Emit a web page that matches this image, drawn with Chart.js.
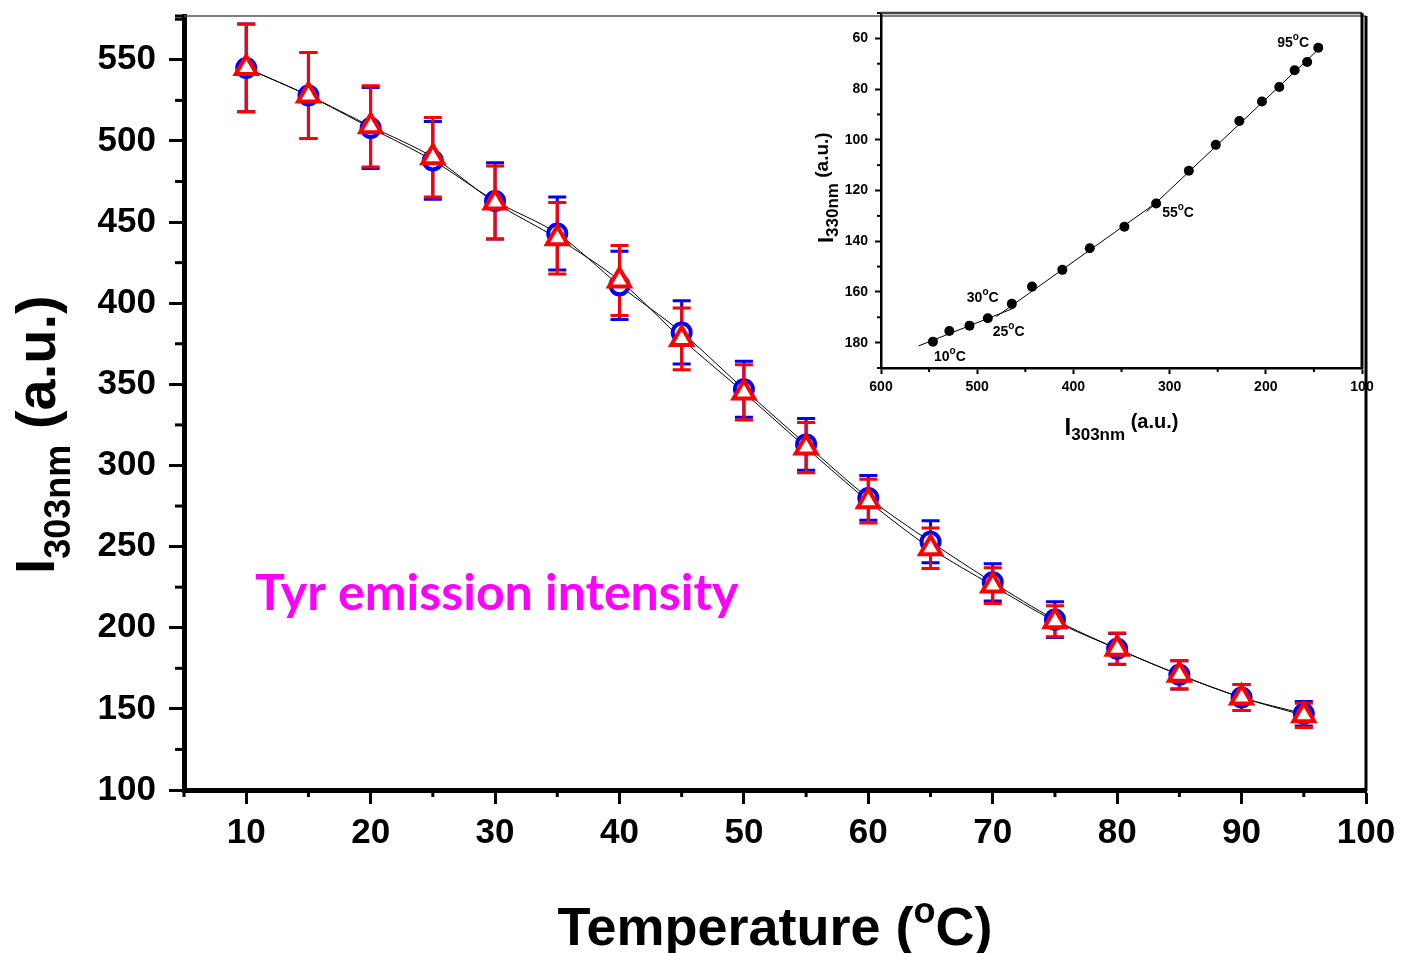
<!DOCTYPE html>
<html>
<head>
<meta charset="utf-8">
<script src="https://cdn.jsdelivr.net/npm/chart.js@4.4.1/dist/chart.umd.min.js"></script>
<style>
  html, body { margin: 0; padding: 0; background: #fff; }
  #wrap { position: relative; width: 1403px; height: 953px; }
  #main { position: absolute; left: 0; top: 0; }
  #inset { position: absolute; left: 790px; top: 0; }
</style>
</head>
<body>
<div id="wrap">
  <canvas id="main" width="1403" height="953"></canvas>
  <canvas id="inset" width="613" height="450"></canvas>
</div>
<script>
// temperature (°C)
var temperature = [10, 15, 20, 25, 30, 35, 40, 45, 50, 55, 60, 65, 70, 75, 80, 85, 90, 95];
// I303nm - blue circles
var blueIntensity = [545, 528, 508, 488, 463, 443, 411, 382, 347, 313, 280, 253, 228, 205, 187, 171, 157, 147];
var blueError = [27, 26.5, 25, 24, 23.5, 22.5, 21, 19.5, 17.3, 16, 13.8, 13, 11.5, 11, 9.5, 8.7, 8, 7.5];
// I303nm - red triangles
var redIntensity = [545, 528, 509, 490, 462, 440, 414, 378, 345, 311, 278, 249, 226, 204, 187, 171, 157, 146];
var redError = [27, 26.5, 25, 24.5, 22.5, 22, 21.5, 19, 17, 15.5, 13.5, 12.5, 11, 9.5, 9.7, 8.7, 8, 7.5];

// inset: I330nm vs I303nm
var insetI303 = [546, 529, 508, 489, 464, 443, 411.5, 383, 347, 314, 280, 252, 227.5, 204, 186, 170, 157, 145.5];
var insetI330 = [179.6, 175.4, 173.3, 170.4, 164.7, 157.9, 151.3, 142.8, 134.3, 125.1, 112.2, 102, 92.6, 84.9, 79.2, 72.6, 69.3, 63.7];
// linear fits (endpoints)
var fitLowX = [561, 462];
var fitLowY = [181.3, 166.4];
var fitMidX = [480, 310];
var fitMidY = [169.7, 123.8];
var fitHighX = [324, 141];
var fitHighY = [128.4, 62.8];
// temperature labels in the inset
var insetLabels = ["10", "25", "30", "55", "95"];
var insetLabelPoint = [0, 3, 4, 9, 17];
var insetLabelOffset = [[1, 19], [5, 18], [-45, -2], [6, 14], [-41, -1]];

var FONT = "'Liberation Sans', Arial, sans-serif";

function toPoints(xs, ys) {
  var out = [];
  for (var i = 0; i < xs.length; i++) out.push({ x: xs[i], y: ys[i] });
  return out;
}

// text with sub/superscripts
function drawRich(ctx, parts, x, y, angle, align) {
  ctx.save();
  ctx.translate(x, y);
  ctx.rotate(angle);
  var total = 0;
  parts.forEach(function(p) { ctx.font = p.font; total += ctx.measureText(p.text).width; });
  var cx = align === "center" ? -total / 2 : 0;
  ctx.textAlign = "left";
  ctx.textBaseline = "alphabetic";
  parts.forEach(function(p) {
    ctx.font = p.font;
    ctx.fillStyle = p.color || "#000";
    ctx.fillText(p.text, cx, p.dy || 0);
    cx += ctx.measureText(p.text).width;
  });
  ctx.restore();
}

// error bars under the markers
var errorBars = {
  id: "errorBars",
  beforeDatasetsDraw: function(chart) {
    var ctx = chart.ctx;
    var xs = chart.scales.x, ys = chart.scales.y;
    chart.data.datasets.forEach(function(ds) {
      if (!ds.errors) return;
      ctx.save();
      ctx.strokeStyle = ds.pointBorderColor;
      ctx.lineWidth = 3;
      ds.data.forEach(function(p, i) {
        var px = xs.getPixelForValue(p.x);
        var top = ys.getPixelForValue(p.y + ds.errors[i]);
        var bot = ys.getPixelForValue(p.y - ds.errors[i]);
        ctx.beginPath();
        ctx.moveTo(px, top); ctx.lineTo(px, bot);
        ctx.moveTo(px - 9, top); ctx.lineTo(px + 9, top);
        ctx.moveTo(px - 9, bot); ctx.lineTo(px + 9, bot);
        ctx.stroke();
      });
      ctx.restore();
    });
  }
};

// short minor ticks + frame
var minorTicks = {
  id: "minorTicks",
  afterDraw: function(chart, args, opts) {
    var ctx = chart.ctx, area = chart.chartArea;
    ctx.save();
    ctx.strokeStyle = "#000";
    ["x", "y"].forEach(function(id) {
      var o = opts[id];
      if (!o) return;
      var scale = chart.scales[id];
      ctx.lineWidth = o.width;
      scale.ticks.forEach(function(t) {
        if (t.value % o.every === 0) return;
        var p = scale.getPixelForValue(t.value);
        ctx.beginPath();
        if (id === "x") { ctx.moveTo(p, area.bottom); ctx.lineTo(p, area.bottom + o.length); }
        else { ctx.moveTo(area.left, p); ctx.lineTo(area.left - o.length, p); }
        ctx.stroke();
      });
    });
    // top and right frame
    ctx.strokeStyle = opts.topColor;
    ctx.lineWidth = opts.topWidth;
    ctx.beginPath();
    ctx.moveTo(area.left, area.top); ctx.lineTo(area.right, area.top);
    ctx.stroke();
    ctx.strokeStyle = "#000";
    ctx.lineWidth = opts.rightWidth;
    ctx.beginPath();
    ctx.moveTo(area.right, area.top); ctx.lineTo(area.right, area.bottom + 1);
    ctx.stroke();
    ctx.restore();
  }
};

var mainTexts = {
  id: "mainTexts",
  afterDraw: function(chart) {
    var ctx = chart.ctx;
    drawRich(ctx, [
      { text: "I", font: "bold 55px " + FONT },
      { text: "303nm", font: "bold 36px " + FONT, dy: 16 },
      { text: " (a.u.)", font: "bold 56px " + FONT, dy: 1 }
    ], 54, 574, -Math.PI / 2, "left");
    drawRich(ctx, [
      { text: "Temperature (", font: "bold 54px " + FONT },
      { text: "o", font: "bold 36px " + FONT, dy: -22 },
      { text: "C)", font: "bold 54px " + FONT }
    ], 775, 945, 0, "center");
    // scale the label font so it spans the same width as the original
    var label = "Tyr emission intensity";
    ctx.font = "bold 46px Lato, " + FONT;
    var size = Math.round(46 * 482 / ctx.measureText(label).width);
    drawRich(ctx, [
      { text: label, font: "bold " + size + "px Lato, " + FONT, color: "#ff00ff" }
    ], 255, 610, 0, "left");
  }
};

var insetTexts = {
  id: "insetTexts",
  afterDraw: function(chart) {
    var ctx = chart.ctx;
    var xs = chart.scales.x, ys = chart.scales.y;
    for (var i = 0; i < insetLabels.length; i++) {
      var k = insetLabelPoint[i];
      var px = xs.getPixelForValue(insetI303[k]) + insetLabelOffset[i][0];
      var py = ys.getPixelForValue(insetI330[k]) + insetLabelOffset[i][1];
      drawRich(ctx, [
        { text: insetLabels[i], font: "bold 14px " + FONT },
        { text: "o", font: "bold 10px " + FONT, dy: -7 },
        { text: "C", font: "bold 14px " + FONT }
      ], px, py, 0, "left");
    }
    drawRich(ctx, [
      { text: "I", font: "bold 22px " + FONT, dy: 5 },
      { text: "330nm", font: "bold 17px " + FONT, dy: 10 },
      { text: " (a.u.)", font: "bold 19px " + FONT }
    ], 828 - 790, 243, -Math.PI / 2, "left");
    drawRich(ctx, [
      { text: "I", font: "bold 24px " + FONT, dy: 7 },
      { text: "303nm", font: "bold 17px " + FONT, dy: 12 },
      { text: " (a.u.)", font: "bold 20px " + FONT }
    ], 1121.5 - 790, 428, 0, "center");
  }
};

function majorTickColor(every) {
  return function(c) { return (c.tick && c.tick.value % every === 0) ? "#000" : "rgba(0,0,0,0)"; };
}

// fixed axis sizes, no extra label padding
function fixHeight(h) {
  return function(s) { s.height = h; s.paddingLeft = 0; s.paddingRight = 0; };
}
function fixWidth(w) {
  return function(s) { s.width = w; s.paddingTop = 0; s.paddingBottom = 0; };
}

new Chart(document.getElementById("main"), {
  type: "scatter",
  data: {
    datasets: [
      { label: "blue line", data: toPoints(temperature, blueIntensity), showLine: true, borderColor: "#000",
        borderWidth: 1, pointRadius: 0, tension: 0.3, order: 3 },
      { label: "red line", data: toPoints(temperature, redIntensity), showLine: true, borderColor: "#000",
        borderWidth: 1, pointRadius: 0, tension: 0.3, order: 2 },
      { label: "blue", data: toPoints(temperature, blueIntensity), errors: blueError, showLine: false,
        pointStyle: "circle", pointRadius: 9, pointBorderWidth: 4, pointBorderColor: "#0000ff",
        pointBackgroundColor: "#ffffff", order: 1 },
      { label: "red", data: toPoints(temperature, redIntensity), errors: redError, showLine: false,
        pointStyle: "triangle", pointRadius: 12, pointBorderWidth: 4, pointBorderColor: "#ff0000",
        pointBackgroundColor: "#ffffff", order: 0 }
    ]
  },
  options: {
    responsive: false,
    animation: false,
    devicePixelRatio: 1,
    events: [],
    layout: { padding: { left: 0, right: 37, top: 12, bottom: 0 } },
    plugins: {
      legend: { display: false },
      tooltip: { enabled: false },
      minorTicks: {
        x: { every: 10, length: 7, width: 3 },
        y: { every: 50, length: 9, width: 3 },
        topColor: "#555", topWidth: 1.5, rightWidth: 3
      }
    },
    scales: {
      x: {
        type: "linear", min: 5, max: 100, bounds: "data",
        ticks: { stepSize: 5, autoSkip: false, includeBounds: false, maxRotation: 0, padding: 8, color: "#000",
          font: { family: FONT, size: 35, weight: "bold" },
          callback: function(v) { return v % 10 === 0 ? v : ""; } },
        grid: { drawOnChartArea: false, tickLength: 14, tickWidth: 3, tickColor: majorTickColor(10) },
        border: { color: "#000", width: 5 },
        afterFit: fixHeight(163)
      },
      y: {
        type: "linear", min: 100, max: 577, bounds: "data",
        ticks: { stepSize: 25, autoSkip: false, includeBounds: false, padding: 13, color: "#000",
          font: { family: FONT, size: 35, weight: "bold" },
          callback: function(v) { return v % 50 === 0 ? v : ""; } },
        grid: { drawOnChartArea: false, tickLength: 15, tickWidth: 3, tickColor: majorTickColor(50) },
        border: { color: "#000", width: 5 },
        afterFit: fixWidth(184)
      }
    }
  },
  plugins: [errorBars, minorTicks, mainTexts]
});

new Chart(document.getElementById("inset"), {
  type: "scatter",
  data: {
    datasets: [
      { label: "I330 vs I303", data: toPoints(insetI303, insetI330), showLine: false, pointRadius: 5,
        pointBackgroundColor: "#000", pointBorderColor: "#000", pointBorderWidth: 0 },
      { label: "fit 1", data: toPoints(fitLowX, fitLowY), showLine: true, borderColor: "#000", borderWidth: 1, pointRadius: 0 },
      { label: "fit 2", data: toPoints(fitMidX, fitMidY), showLine: true, borderColor: "#000", borderWidth: 1, pointRadius: 0 },
      { label: "fit 3", data: toPoints(fitHighX, fitHighY), showLine: true, borderColor: "#000", borderWidth: 1, pointRadius: 0 }
    ]
  },
  options: {
    responsive: false,
    animation: false,
    devicePixelRatio: 1,
    events: [],
    layout: { padding: { left: 0, right: 41, top: 13, bottom: 0 } },
    plugins: {
      legend: { display: false },
      tooltip: { enabled: false },
      minorTicks: {
        x: { every: 100, length: 4, width: 2 },
        y: { every: 20, length: 4, width: 2 },
        topColor: "#444", topWidth: 2.5, rightWidth: 3
      }
    },
    scales: {
      x: {
        type: "linear", min: 100, max: 600, reverse: true, bounds: "data",
        ticks: { stepSize: 50, autoSkip: false, includeBounds: false, maxRotation: 0, padding: 5, color: "#000",
          font: { family: FONT, size: 14, weight: "bold" },
          callback: function(v) { return v % 100 === 0 ? v : ""; } },
        grid: { drawOnChartArea: false, tickLength: 6, tickWidth: 2, tickColor: majorTickColor(100) },
        border: { color: "#000", width: 2.5 },
        afterFit: fixHeight(82)
      },
      y: {
        type: "linear", min: 50, max: 190, reverse: true, bounds: "data",
        ticks: { stepSize: 10, autoSkip: false, includeBounds: false, padding: 7, color: "#000",
          font: { family: FONT, size: 14, weight: "bold" },
          callback: function(v) { return v % 20 === 0 ? v : ""; } },
        grid: { drawOnChartArea: false, tickLength: 6, tickWidth: 2, tickColor: majorTickColor(20) },
        border: { color: "#000", width: 2.5 },
        afterFit: fixWidth(91)
      }
    }
  },
  plugins: [minorTicks, insetTexts]
});
</script>
</body>
</html>
